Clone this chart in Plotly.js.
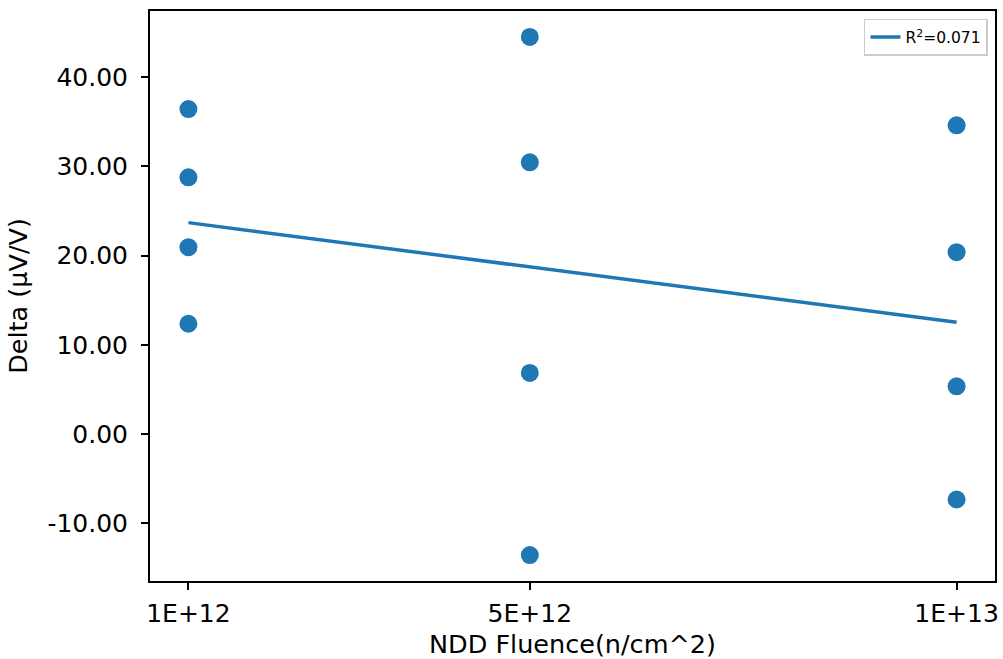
<!DOCTYPE html>
<html>
<head>
<meta charset="utf-8">
<script src="https://cdn.plot.ly/plotly-3.0.1.min.js"></script>
<style>html,body{margin:0;padding:0;background:#fff;}#chart{width:1003px;height:659px;}</style>
</head>
<body>
<div id="chart"></div>
<script>
// Data
const fluence = [1e12, 1e12, 1e12, 1e12, 5e12, 5e12, 5e12, 5e12, 1e13, 1e13, 1e13, 1e13];
const delta = [36.41, 28.77, 20.94, 12.36, 44.50, 30.45, 6.85, -13.56, 34.59, 20.38, 5.35, -7.33];
const fitX = [1e12, 1e13];
const fitY = [23.69, 12.52];
const fitLabel = "R<sup>2</sup>=0.071";
const xTickVals = [1e12, 5e12, 1e13];
const xTickText = ["1E+12", "5E+12", "1E+13"];
const yTickVals = [-10, 0, 10, 20, 30, 40];
const yTickText = ["-10.00", "0.00", "10.00", "20.00", "30.00", "40.00"];

const blue = "#1f77b4";
const font = "DejaVu Sans, sans-serif";

const traces = [
  {
    x: fluence, y: delta, type: "scatter", mode: "markers",
    marker: {color: blue, size: 18}, showlegend: false, hoverinfo: "x+y"
  },
  {
    x: fitX, y: fitY, type: "scatter", mode: "lines",
    line: {color: blue, width: 3.5}, name: fitLabel, showlegend: true
  }
];

const axisCommon = {
  showline: true, linecolor: "#000", linewidth: 2, mirror: true,
  ticks: "outside", ticklen: 7, tickwidth: 2, tickcolor: "#000",
  showgrid: false, zeroline: false,
  tickfont: {family: font, size: 25, color: "#000"}
};

const layout = {
  width: 1003, height: 659,
  margin: {l: 150, r: 8, t: 11, b: 78, pad: 0},
  paper_bgcolor: "#fff", plot_bgcolor: "#fff",
  font: {family: font, color: "#000"},
  xaxis: Object.assign({}, axisCommon, {
    range: [0.55e12, 10.45e12],
    tickmode: "array", tickvals: xTickVals, ticktext: xTickText,
    ticklabelstandoff: 2,
    title: {text: "NDD Fluence(n/cm^2)", font: {family: font, size: 25.5, color: "#000"}, standoff: 12}
  }),
  yaxis: Object.assign({}, axisCommon, {
    range: [-16.46, 47.40],
    tickmode: "array", tickvals: yTickVals, ticktext: yTickText,
    ticklabelstandoff: 8,
    title: {text: "Delta (μV/V)", font: {family: font, size: 25.5, color: "#000"}, standoff: 12}
  }),
  legend: {
    x: 0.9917, y: 0.986, xanchor: "right", yanchor: "top",
    bgcolor: "rgba(255,255,255,0.8)", bordercolor: "#cccccc", borderwidth: 1.5,
    font: {family: font, size: 15.5, color: "#000"},
    itemwidth: 30
  },
  showlegend: true
};

Plotly.newPlot("chart", traces, layout, {displayModeBar: false, staticPlot: true});
</script>
</body>
</html>
